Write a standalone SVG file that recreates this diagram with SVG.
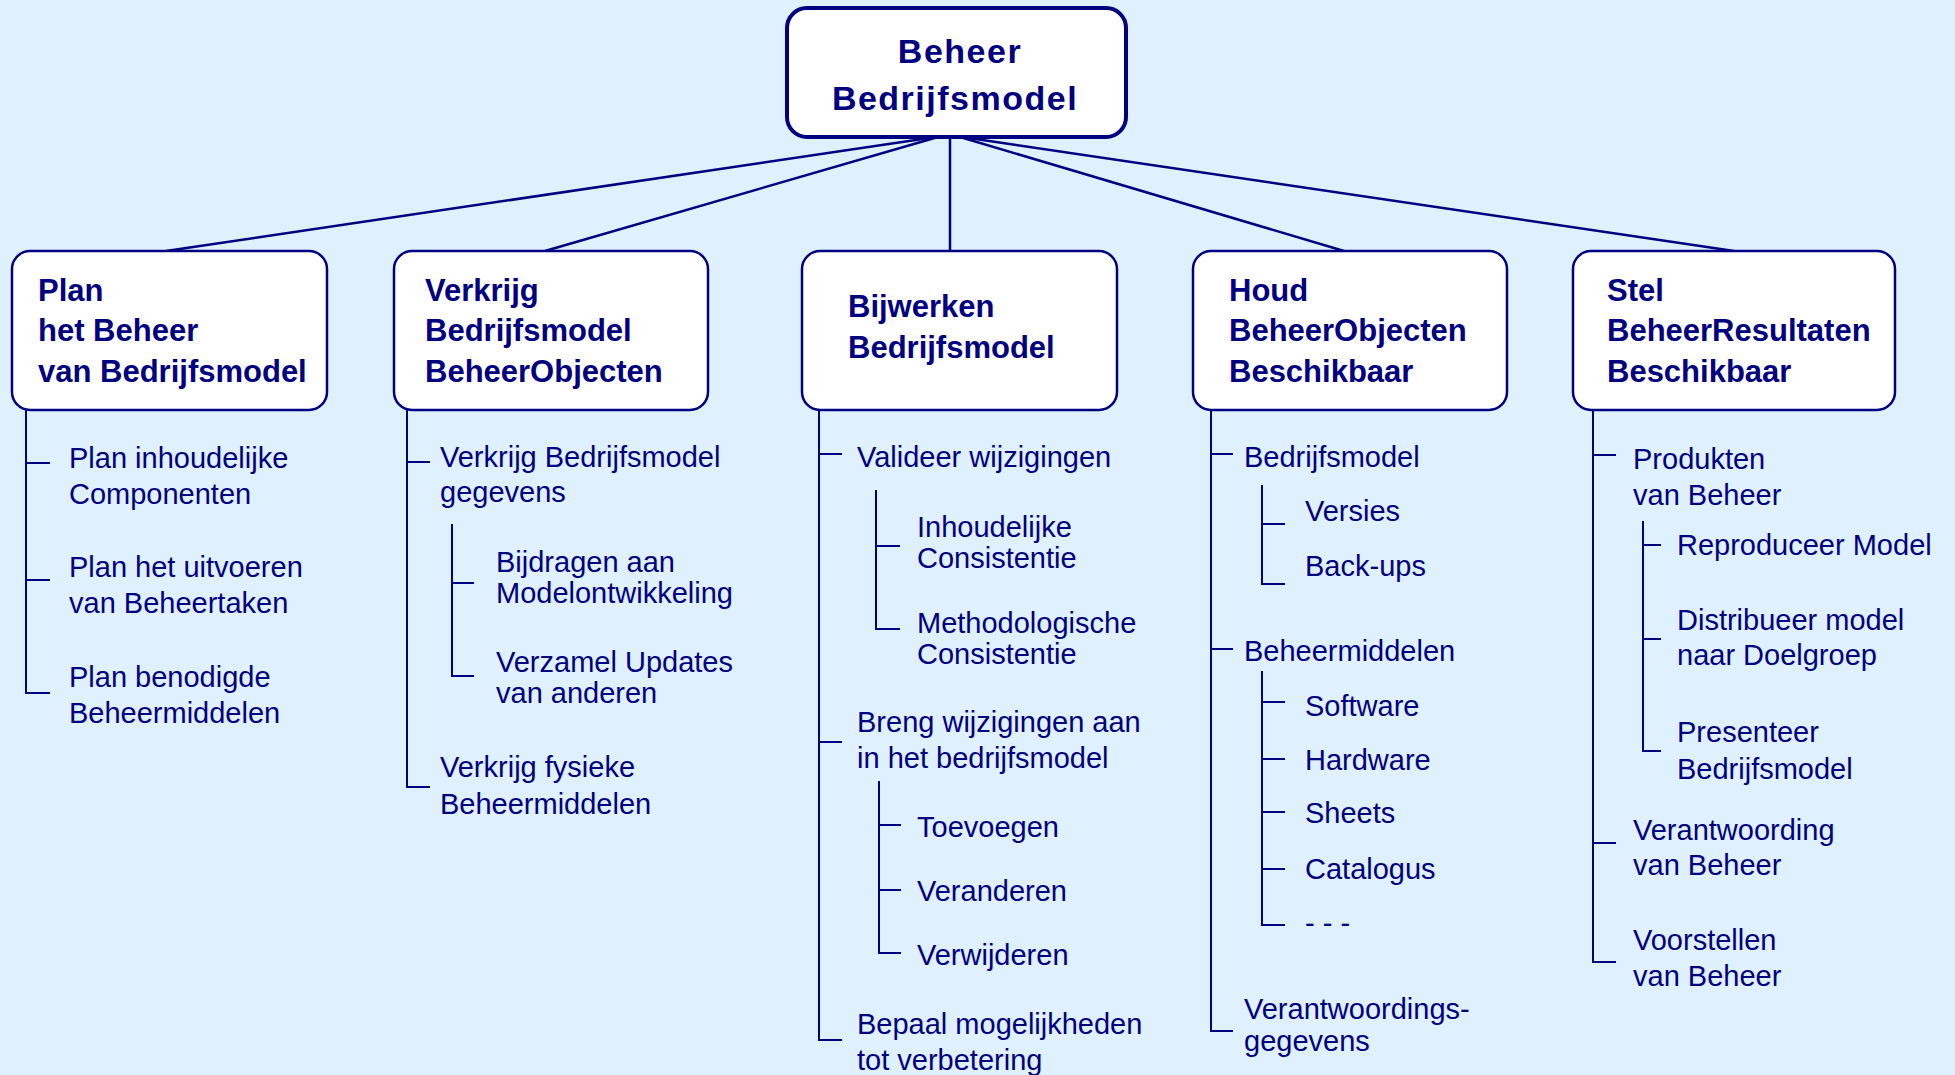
<svg xmlns="http://www.w3.org/2000/svg" width="1955" height="1075" viewBox="0 0 1955 1075">
<style>
.bg{fill:#DFF0FF}
.box{fill:#FFFFFF;stroke:#000080;stroke-width:2.5}
.root{fill:#FFFFFF;stroke:#000080;stroke-width:4}
.conn{stroke:#000080;stroke-width:2.5;fill:none}
.tree{stroke:#000080;stroke-width:2;fill:none}
.hb{font-family:"Liberation Sans",Arial,sans-serif;font-weight:bold;font-size:31px;fill:#000080}
.rt{font-family:"Liberation Sans",Arial,sans-serif;font-weight:bold;font-size:34px;letter-spacing:1.5px;fill:#000080;text-anchor:middle}
.t{font-family:"Liberation Sans",Arial,sans-serif;font-size:29px;fill:#000080}
</style>
<rect class="bg" x="0" y="0" width="1955" height="1075"/>
<g id="connectors">
<line class="conn" x1="936" y1="137" x2="166" y2="251"/>
<line class="conn" x1="938" y1="137" x2="545" y2="251"/>
<line class="conn" x1="950" y1="135" x2="950" y2="251"/>
<line class="conn" x1="960" y1="137" x2="1344" y2="251"/>
<line class="conn" x1="962" y1="137" x2="1734" y2="251"/>
</g>
<g id="root">
<rect class="root" x="787" y="8" width="339" height="129" rx="20"/>
<text class="rt" x="960" y="63">Beheer</text>
<text class="rt" x="955" y="110">Bedrijfsmodel</text>
</g>
<g id="plan">
<rect class="box" x="12" y="251" width="315" height="159" rx="18"/>
<text class="hb" x="38" y="301">Plan</text>
<text class="hb" x="38" y="341">het Beheer</text>
<text class="hb" x="38" y="382">van Bedrijfsmodel</text>
</g>
<g id="plan-items">
<path class="tree" d="M26,410 V693 H50 M26,463 H50 M26,580 H50"/>
<text class="t" x="69" y="468">Plan inhoudelijke</text>
<text class="t" x="69" y="504">Componenten</text>
<text class="t" x="69" y="577">Plan het uitvoeren</text>
<text class="t" x="69" y="613">van Beheertaken</text>
<text class="t" x="69" y="687">Plan benodigde</text>
<text class="t" x="69" y="723">Beheermiddelen</text>
</g>
<g id="verkrijg">
<rect class="box" x="394" y="251" width="314" height="159" rx="18"/>
<text class="hb" x="425" y="301">Verkrijg</text>
<text class="hb" x="425" y="341">Bedrijfsmodel</text>
<text class="hb" x="425" y="382">BeheerObjecten</text>
</g>
<g id="verkrijg-items">
<path class="tree" d="M407,410 V787 H430 M407,462 H430"/>
<path class="tree" d="M452,524 V676 H474 M452,583 H474"/>
<text class="t" x="440" y="467">Verkrijg Bedrijfsmodel</text>
<text class="t" x="440" y="502">gegevens</text>
<text class="t" x="496" y="572">Bijdragen aan</text>
<text class="t" x="496" y="603">Modelontwikkeling</text>
<text class="t" x="496" y="672">Verzamel Updates</text>
<text class="t" x="496" y="703">van anderen</text>
<text class="t" x="440" y="777">Verkrijg fysieke</text>
<text class="t" x="440" y="814">Beheermiddelen</text>
</g>
<g id="bijwerken">
<rect class="box" x="802" y="251" width="315" height="159" rx="18"/>
<text class="hb" x="848" y="317">Bijwerken</text>
<text class="hb" x="848" y="358">Bedrijfsmodel</text>
</g>
<g id="bijwerken-items">
<path class="tree" d="M819,410 V1040 H842 M819,454 H842 M819,742 H842"/>
<path class="tree" d="M876,490 V629 H900 M876,546 H900"/>
<path class="tree" d="M879,781 V953 H901 M879,825 H901 M879,890 H901"/>
<text class="t" x="857" y="467">Valideer wijzigingen</text>
<text class="t" x="917" y="537">Inhoudelijke</text>
<text class="t" x="917" y="568">Consistentie</text>
<text class="t" x="917" y="633">Methodologische</text>
<text class="t" x="917" y="664">Consistentie</text>
<text class="t" x="857" y="732">Breng wijzigingen aan</text>
<text class="t" x="857" y="768">in het bedrijfsmodel</text>
<text class="t" x="917" y="837">Toevoegen</text>
<text class="t" x="917" y="901">Veranderen</text>
<text class="t" x="917" y="965">Verwijderen</text>
<text class="t" x="857" y="1034">Bepaal mogelijkheden</text>
<text class="t" x="857" y="1070">tot verbetering</text>
</g>
<g id="houd">
<rect class="box" x="1193" y="251" width="314" height="159" rx="18"/>
<text class="hb" x="1229" y="301">Houd</text>
<text class="hb" x="1229" y="341">BeheerObjecten</text>
<text class="hb" x="1229" y="382">Beschikbaar</text>
</g>
<g id="houd-items">
<path class="tree" d="M1211,410 V1031 H1233 M1211,454 H1233 M1211,649 H1233"/>
<path class="tree" d="M1262,485 V584 H1285 M1262,524 H1285"/>
<path class="tree" d="M1262,671 V925 H1285 M1262,702 H1285 M1262,759 H1285 M1262,812 H1285 M1262,869 H1285"/>
<text class="t" x="1244" y="467">Bedrijfsmodel</text>
<text class="t" x="1305" y="521">Versies</text>
<text class="t" x="1305" y="576">Back-ups</text>
<text class="t" x="1244" y="661">Beheermiddelen</text>
<text class="t" x="1305" y="716">Software</text>
<text class="t" x="1305" y="770">Hardware</text>
<text class="t" x="1305" y="823">Sheets</text>
<text class="t" x="1305" y="879">Catalogus</text>
<text class="t" x="1305" y="933">- - -</text>
<text class="t" x="1244" y="1019">Verantwoordings-</text>
<text class="t" x="1244" y="1051">gegevens</text>
</g>
<g id="stel">
<rect class="box" x="1573" y="251" width="322" height="159" rx="18"/>
<text class="hb" x="1607" y="301">Stel</text>
<text class="hb" x="1607" y="341">BeheerResultaten</text>
<text class="hb" x="1607" y="382">Beschikbaar</text>
</g>
<g id="stel-items">
<path class="tree" d="M1593,410 V962 H1616 M1593,455 H1616 M1593,843 H1616"/>
<path class="tree" d="M1643,521 V751 H1661 M1643,545 H1661 M1643,639 H1661"/>
<text class="t" x="1633" y="469">Produkten</text>
<text class="t" x="1633" y="505">van Beheer</text>
<text class="t" x="1677" y="555">Reproduceer Model</text>
<text class="t" x="1677" y="630">Distribueer model</text>
<text class="t" x="1677" y="665">naar Doelgroep</text>
<text class="t" x="1677" y="742">Presenteer</text>
<text class="t" x="1677" y="779">Bedrijfsmodel</text>
<text class="t" x="1633" y="840">Verantwoording</text>
<text class="t" x="1633" y="875">van Beheer</text>
<text class="t" x="1633" y="950">Voorstellen</text>
<text class="t" x="1633" y="986">van Beheer</text>
</g>
</svg>
